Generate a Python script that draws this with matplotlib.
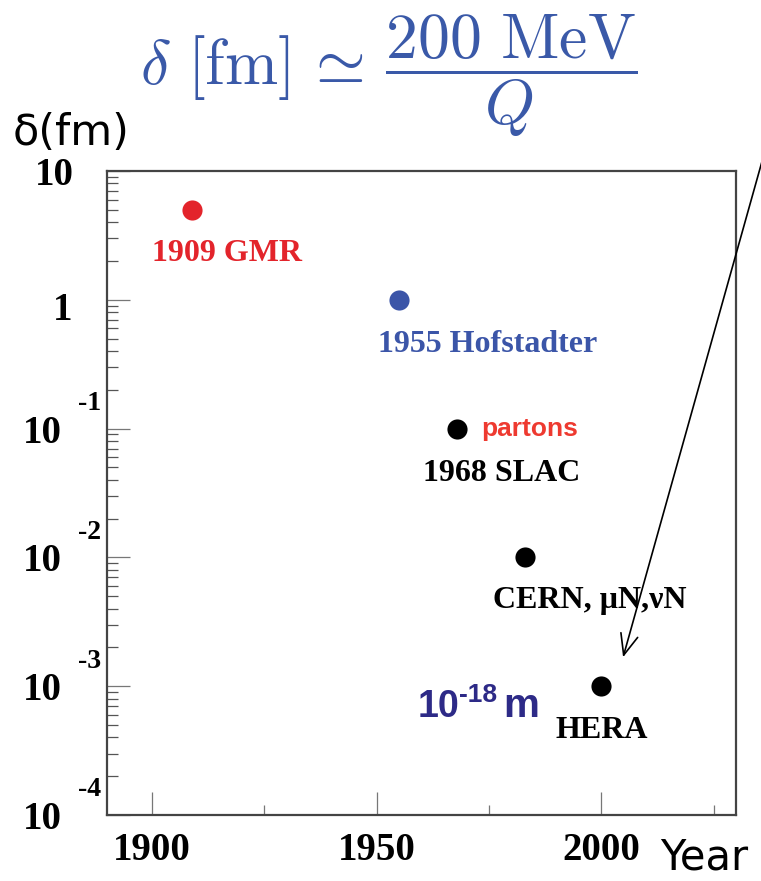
import matplotlib.pyplot as plt
import numpy as np
from matplotlib.ticker import MultipleLocator, LogLocator, NullFormatter

# data
years = [1909, 1955, 1968, 1983, 2000]
delta_fm = [5.0, 1.0, 0.1, 0.01, 0.001]
point_labels = ['1909 GMR', '1955 Hofstadter', '1968 SLAC', 'CERN, μN,νN', 'HERA']
point_colors = ['#e3242b', '#3b55a8', 'black', 'black', 'black']
y_exponents = [1, 0, -1, -2, -3, -4]
x_major = [1900, 1950, 2000]

plt.rcParams['mathtext.fontset'] = 'cm'
SERIF = 'Liberation Serif'
SANS = 'Liberation Sans'
PX = 0.72  # pixels -> points at dpi 100

fig = plt.figure(figsize=(7.61, 8.81), dpi=100)
ax = fig.add_axes([107 / 761, 1 - 815 / 881, 629 / 761, 644 / 881])

ax.set_yscale('log')
ax.set_xlim(1890, 2030)
ax.set_ylim(1e-4, 10)

for x, y, c in zip(years, delta_fm, point_colors):
    ax.plot(x, y, 'o', color=c, markersize=14.5, markeredgewidth=0, zorder=3)

# label offsets (px right, px down to baseline), text centred
offsets = [(35, 51), (89, 52), (44, 52), (65, 51), (1, 52)]
for x, y, lab, c, (dx, dy) in zip(years, delta_fm, point_labels, point_colors, offsets):
    ax.annotate(lab, xy=(x, y), xytext=(dx * PX, -dy * PX), textcoords='offset points',
                ha='center', va='baseline', fontsize=23, fontweight='bold',
                family=SERIF, color=c)

ax.annotate('partons', xy=(years[2], delta_fm[2]), xytext=(24 * PX, -7 * PX),
            textcoords='offset points', ha='left', va='baseline', fontsize=19,
            fontweight='bold', family=SANS, color='#ee3a30')

# "10^-18 m" next to HERA, pieced together in a sans bold face
navy = '#2d2a87'
for txt, dx, dy, fs in [('10', -184, 31, 27), ('-18', -142, 16, 19), ('m', -98, 31, 29)]:
    ax.annotate(txt, xy=(years[4], delta_fm[4]), xytext=(dx * PX, -dy * PX),
                textcoords='offset points', ha='left', va='baseline', fontsize=fs,
                fontweight='bold', family=SANS, color=navy)

# arrow from outside the frame down to HERA
ax.annotate('', xy=(2004.7, 0.0016), xycoords='data',
            xytext=(768, 881 - 140), textcoords='figure pixels',
            arrowprops=dict(arrowstyle='->,head_length=0.6,head_width=0.25',
                            color='black', lw=1.2, mutation_scale=25),
            annotation_clip=False)

# axes styling (ROOT-like)
for side in ['left', 'bottom', 'right', 'top']:
    ax.spines[side].set_color('#444444')
    ax.spines[side].set_linewidth(1.6)

ax.xaxis.set_major_locator(MultipleLocator(50))
ax.xaxis.set_minor_locator(MultipleLocator(25))
ax.set_xticks(x_major)
ax.set_xticklabels([str(v) for v in x_major], fontsize=28, fontweight='bold', family=SERIF)
ax.tick_params(axis='x', which='major', direction='in', length=16.5, width=0.9,
               color='#777777', pad=12)
ax.tick_params(axis='x', which='minor', direction='in', length=7, width=0.9, color='#777777')

ax.set_yticks([10.0 ** e for e in y_exponents])
ax.yaxis.set_minor_locator(LogLocator(base=10, subs=np.arange(2, 10)))
ax.yaxis.set_major_formatter(NullFormatter())
ax.yaxis.set_minor_formatter(NullFormatter())
ax.tick_params(axis='y', which='major', direction='in', length=16.5, width=0.9, color='#777777')
ax.tick_params(axis='y', which='minor', direction='in', length=8, width=0.9, color='#555555')

ytr = ax.get_yaxis_transform()
for e in y_exponents:
    v = 10.0 ** e
    if e == 1:
        ax.annotate('10', xy=(0, v), xycoords=ytr, xytext=(-33 * PX, 0),
                    textcoords='offset points', ha='right', va='center_baseline',
                    fontsize=28, fontweight='bold', family=SERIF, annotation_clip=False)
    elif e == 0:
        ax.annotate('1', xy=(0, v), xycoords=ytr, xytext=(-35 * PX, -6 * PX),
                    textcoords='offset points', ha='right', va='center_baseline',
                    fontsize=28, fontweight='bold', family=SERIF, annotation_clip=False)
    else:
        ax.annotate('10', xy=(0, v), xycoords=ytr, xytext=(-45 * PX, 0),
                    textcoords='offset points', ha='right', va='center_baseline',
                    fontsize=28, fontweight='bold', family=SERIF, annotation_clip=False)
        ax.annotate(str(e), xy=(0, v), xycoords=ytr, xytext=(-6 * PX, 28 * PX),
                    textcoords='offset points', ha='right', va='center_baseline',
                    fontsize=20, fontweight='bold', family=SERIF, annotation_clip=False)

# headline formula and hand-written axis labels
fig.text(389 / 761, 1 - 76 / 881,
         r'$\delta\ [\mathrm{fm}]\,\simeq\,\dfrac{200\ \mathrm{MeV}}{Q}$',
         ha='center', va='center', fontsize=46, color='#3a59a8')
fig.text(13 / 761, 1 - 145 / 881, 'δ(fm)', ha='left', va='baseline',
         fontsize=31, family='DejaVu Sans')
fig.text(660 / 761, 1 - 878 / 881, 'Year', ha='left', va='bottom',
         fontsize=30, family='DejaVu Sans')

fig.savefig('out.png', dpi=100)
